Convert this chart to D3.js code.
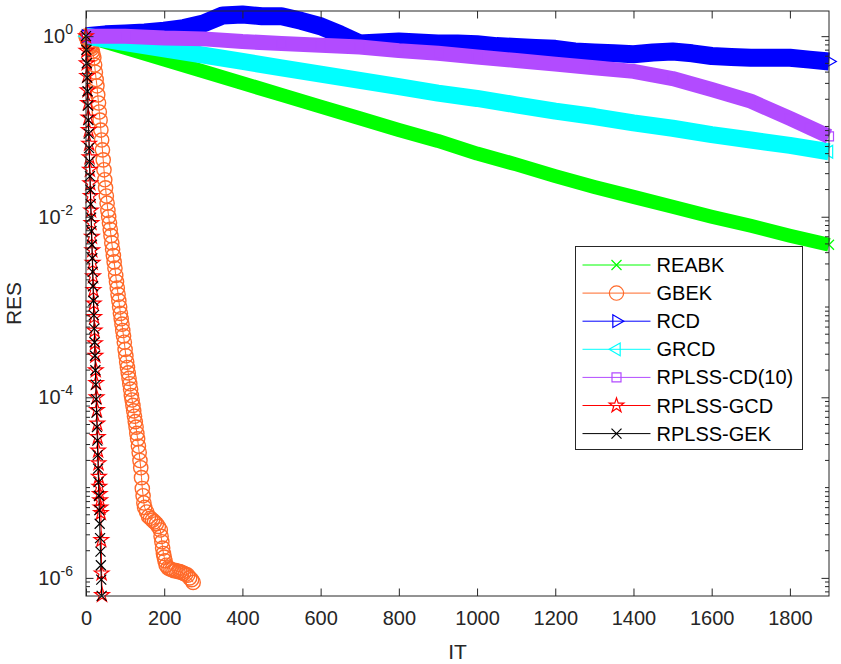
<!DOCTYPE html>
<html>
<meta charset="utf-8">
<head>
<script src="https://cdn.jsdelivr.net/npm/d3@7"></script>
<style>
  body { margin: 0; background: #fff; }
  text { font-family: "Liberation Sans", Arial, sans-serif; fill: #262626; }
</style>
</head>
<body>
<svg id="chart" width="841" height="664"></svg>
<script>
// iterations (IT) and log10(RES)
var itBy100 = [0,100,200,300,400,500,600,700,800,900,1000,1100,1200,1300,1400,1500,1600,1700,1800,1900];
var itBy50 = [0,50,100,150,200,250,300,350,400,450,500,550,600,650,700,750,800,850,900,950,
              1000,1050,1100,1150,1200,1250,1300,1350,1400,1450,1500,1550,1600,1650,1700,1750,1800,1850,1900];
var itCd = [0,100,200,300,400,500,600,700,800,900,1000,1100,1200,1300,1400,1500,1600,1700,1800,1850,1900];
var itGbek = [0,2,4,6,8,10,12,14,16,18,20,22,24,26,28,30,32,34,36,38,40,42,44,46,48,50,52,54,56,58,
              60,62,64,66,68,70,72,74,76,78,80,82,84,86,88,90,92,94,96,98,100,102,104,106,108,110,112,114,116,118,
              120,122,124,126,128,130,132,134,136,138,140,142,144,146,148,150,
              155,160,165,170,175,180,185,190,192,194,196,198,200,202,
              205,210,215,220,225,230,235,240,245,250,255,260,265,270,274];
var itGcd = [0,1,2,3,4,5,6,7,8,9,10,11,12,13,14,15,16,17,18,19,20,21,22,23,24,25,26,27,28,29,30,31,32,33,34,35,36,37,38,39,40,41];
var itGek = [0,1,2,3,4,5,6,7,8,9,10,11,12,13,14,15,16,17,18,19,20,21,22,23,24,25,26,27,28,29,30,31,32,33,34,35,36,37,38,39,40];

var reabk = [0,-0.13,-0.26,-0.39,-0.52,-0.65,-0.78,-0.91,-1.04,-1.16,-1.30,-1.42,-1.55,-1.67,-1.78,-1.89,-2.00,-2.10,-2.21,-2.31];
var gbek = [0,-0.02,-0.04,-0.07,-0.09,-0.11,-0.12,-0.14,-0.17,-0.20,
            -0.24,-0.32,-0.40,-0.48,-0.55,-0.65,-0.74,-0.84,-0.93,-1.04,
            -1.15,-1.26,-1.37,-1.48,-1.59,-1.68,-1.77,-1.85,-1.93,-2.00,
            -2.07,-2.14,-2.21,-2.29,-2.36,-2.43,-2.50,-2.57,-2.65,-2.72,
            -2.79,-2.86,-2.93,-3.00,-3.07,-3.13,-3.19,-3.26,-3.32,-3.39,
            -3.47,-3.54,-3.61,-3.67,-3.73,-3.79,-3.85,-3.91,-3.98,-4.03,
            -4.09,-4.15,-4.21,-4.27,-4.33,-4.40,-4.46,-4.54,-4.61,-4.70,
            -4.78,-4.89,-5.01,-5.09,-5.17,-5.22,
            -5.27,-5.32,-5.34,-5.36,-5.38,-5.40,-5.43,-5.47,
            -5.54,-5.60,-5.67,-5.73,-5.77,-5.81,
            -5.86,-5.89,-5.90,-5.91,-5.92,-5.92,-5.93,-5.93,-5.94,-5.95,-5.96,-5.97,-6.00,-6.02,-6.05];
var rcd = [0,0.02,0.03,0.04,0.06,0.09,0.14,0.23,0.24,0.22,0.22,0.17,0.11,0.02,-0.08,-0.07,-0.06,-0.07,-0.08,-0.08,
           -0.09,-0.11,-0.12,-0.13,-0.14,-0.17,-0.18,-0.19,-0.20,-0.18,-0.17,-0.19,-0.22,-0.23,-0.24,-0.24,-0.24,-0.26,-0.28];
var grcd = [0,-0.07,-0.14,-0.21,-0.28,-0.35,-0.42,-0.49,-0.56,-0.63,-0.69,-0.76,-0.83,-0.89,-0.96,-1.02,-1.09,-1.15,-1.21,-1.28];
var rplssCd = [0,0,-0.02,-0.03,-0.06,-0.08,-0.10,-0.12,-0.16,-0.19,-0.23,-0.27,-0.31,-0.35,-0.39,-0.47,-0.59,-0.72,-0.91,-1.01,-1.11];
var rplssGcd = [0,-0.16,-0.30,-0.44,-0.60,-0.74,-0.90,-1.04,-1.19,-1.34,-1.48,-1.63,-1.77,-1.93,-2.07,-2.22,-2.37,-2.51,
                -2.66,-2.81,-2.96,-3.11,-3.26,-3.40,-3.54,-3.70,-3.84,-4.00,-4.14,-4.29,-4.44,-4.59,-4.73,-4.88,-4.99,
                -5.07,-5.14,-5.22,-5.28,-5.58,-5.95,-6.19];
var rplssGek = [0,-0.15,-0.30,-0.46,-0.61,-0.77,-0.93,-1.08,-1.24,-1.39,-1.55,-1.70,-1.86,-2.01,-2.16,-2.31,-2.46,-2.61,
                -2.77,-2.93,-3.09,-3.24,-3.39,-3.54,-3.70,-3.86,-4.02,-4.17,-4.33,-4.48,-4.64,-4.79,-4.94,-5.09,-5.25,
                -5.40,-5.56,-5.71,-5.86,-6.02,-6.20];

var names = ["REABK","GBEK","RCD","GRCD","RPLSS-CD(10)","RPLSS-GCD","RPLSS-GEK"];
var xTicks = [0,200,400,600,800,1000,1200,1400,1600,1800];
var yTicks = [1e-6,1e-4,1e-2,1];

var series = [
  {name: names[0], it: itBy100, res: reabk, color: "#00ff00", marker: "x", band: 14},
  {name: names[1], it: itGbek, res: gbek, color: "#ff6929", marker: "o", band: 1},
  {name: names[2], it: itBy50, res: rcd, color: "#0000ff", marker: ">", band: 18},
  {name: names[3], it: itBy100, res: grcd, color: "#00ffff", marker: "<", band: 17},
  {name: names[4], it: itCd, res: rplssCd, color: "#b24bff", marker: "s", band: 15},
  {name: names[5], it: itGcd, res: rplssGcd, color: "#ff0000", marker: "p", band: 1},
  {name: names[6], it: itGek, res: rplssGek, color: "#000000", marker: "x", band: 1}
];

var svg = d3.select("#chart");
var L = 86, R = 829, T = 11, B = 596;

var x = d3.scaleLinear().domain([0, 1900]).range([L, R]);
var y = d3.scaleLog().domain([6.3e-7, 1.9]).range([B, T]);

function markerPath(m) {
  if (m == "x") return "M-5,-5L5,5M-5,5L5,-5";
  if (m == "o") return d3.symbol(d3.symbolCircle, 160)();
  if (m == "s") return d3.symbol(d3.symbolSquare, 81)();
  if (m == "p") return d3.symbol(d3.symbolStar, 66)();
  return d3.symbol(d3.symbolTriangle, 70)();
}
function markerRot(m) {
  if (m == ">") return 90;
  if (m == "<") return -90;
  return 0;
}

var line = d3.line();

series.forEach(function(s) {
  var pts = s.it.map(function(d, i) { return [x(d), y(Math.pow(10, s.res[i]))]; });
  var g = svg.append("g");
  g.append("path")
    .attr("d", line(pts))
    .attr("fill", "none")
    .attr("stroke", s.color)
    .attr("stroke-width", s.band)
    .attr("stroke-linejoin", "round");
  g.selectAll("path.m").data(pts).enter().append("path")
    .attr("class", "m")
    .attr("d", markerPath(s.marker))
    .attr("transform", function(p) { return "translate(" + p[0] + "," + p[1] + ") rotate(" + markerRot(s.marker) + ")"; })
    .attr("fill", "none")
    .attr("stroke", s.color)
    .attr("stroke-width", s.marker == "o" ? 1.4 : 1.2);
});

// axes box
var ax = svg.append("g").attr("stroke", "#262626").attr("fill", "none");
ax.append("rect").attr("x", L).attr("y", T).attr("width", R - L).attr("height", B - T).attr("stroke-width", 1);

var xb = svg.append("g").attr("transform", "translate(0," + B + ")")
  .call(d3.axisBottom(x).tickValues(xTicks).tickSize(-7.5).tickSizeOuter(0).tickPadding(15).tickFormat(d3.format("d")));
var xt = svg.append("g").attr("transform", "translate(0," + T + ")")
  .call(d3.axisTop(x).tickValues(xTicks).tickSize(-7.5).tickSizeOuter(0).tickFormat(""));
var yl = svg.append("g").attr("transform", "translate(" + L + ",0)")
  .call(d3.axisLeft(y).tickValues(yTicks).tickSize(-7.5).tickSizeOuter(0).tickPadding(13));
var yr = svg.append("g").attr("transform", "translate(" + R + ",0)")
  .call(d3.axisRight(y).tickValues(yTicks).tickSize(-7.5).tickSizeOuter(0).tickFormat(""));

[xb, xt, yl, yr].forEach(function(g) {
  g.select(".domain").remove();
  g.selectAll(".tick line").attr("stroke", "#262626");
  g.selectAll(".tick text").attr("font-size", 20).attr("fill", "#262626");
});

yl.selectAll(".tick text").each(function(d) {
  var t = d3.select(this);
  t.text(null);
  t.append("tspan").text("10");
  t.append("tspan").attr("dy", -9).attr("font-size", 14).text(Math.round(Math.log10(d)));
});

// minor log ticks
var minor = [];
for (var k = -7; k <= 0; k++) {
  for (var m = 1; m <= 9; m++) {
    var v = m * Math.pow(10, k);
    if (v >= 6.3e-7 && v <= 1.9 && !(m == 1 && k % 2 == 0)) minor.push(v);
  }
}
ax.selectAll("line.mnl").data(minor).enter().append("line")
  .attr("x1", L).attr("x2", L + 4).attr("y1", function(d) { return y(d); }).attr("y2", function(d) { return y(d); });
ax.selectAll("line.mnr").data(minor).enter().append("line")
  .attr("x1", R).attr("x2", R - 4).attr("y1", function(d) { return y(d); }).attr("y2", function(d) { return y(d); });

svg.append("text").attr("x", (L + R) / 2).attr("y", 659).attr("text-anchor", "middle")
  .attr("font-size", 21).text("IT");
svg.append("text").attr("transform", "translate(21," + (T + B) / 2 + ") rotate(-90)")
  .attr("text-anchor", "middle").attr("font-size", 21).text("RES");

// legend
var lg = svg.append("g").attr("transform", "translate(575.5,246.5)");
lg.append("rect").attr("width", 227).attr("height", 203).attr("fill", "#fff").attr("stroke", "#262626");
series.forEach(function(s, i) {
  var ry = 18.5 + i * 28.1;
  lg.append("line").attr("x1", 7).attr("x2", 75).attr("y1", ry).attr("y2", ry)
    .attr("stroke", s.color).attr("stroke-width", 1);
  lg.append("path").attr("d", markerPath(s.marker))
    .attr("transform", "translate(41," + ry + ") rotate(" + markerRot(s.marker) + ")")
    .attr("fill", "none").attr("stroke", s.color).attr("stroke-width", 1.2);
  lg.append("text").attr("x", 81).attr("y", ry).attr("dy", "0.35em")
    .attr("font-size", 20).style("fill", "#000").text(s.name);
});
</script>
</body>
</html>
